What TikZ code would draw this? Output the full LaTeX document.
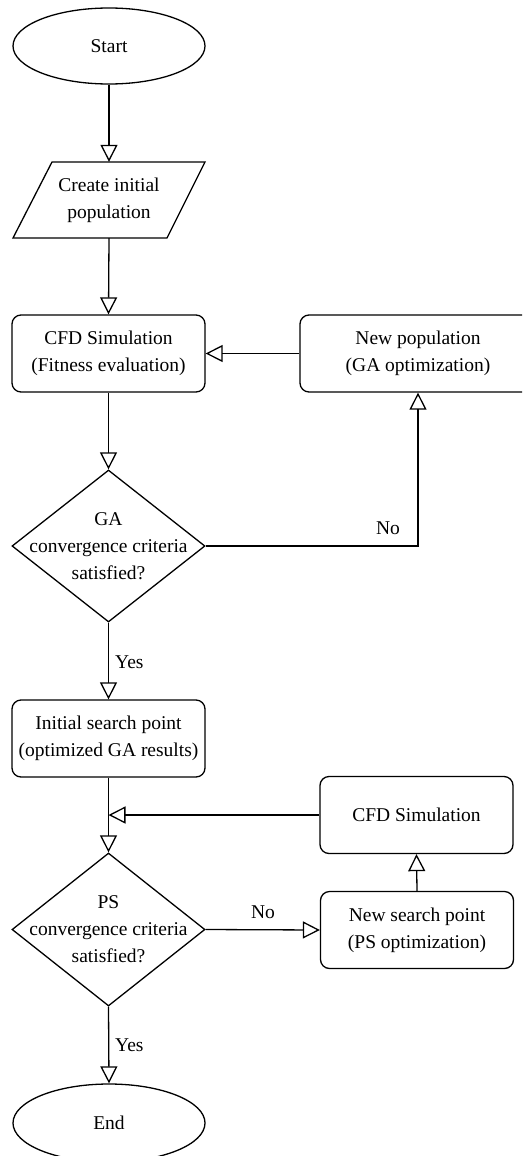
\documentclass[tikz,border=0pt]{standalone}
\usepackage{fontspec}
\setmainfont{Liberation Serif}
\usetikzlibrary{shapes.geometric,arrows.meta}
\begin{document}
\begin{tikzpicture}[x=1pt,y=-1pt,
  every node/.style={font=\fontsize{19.5}{27}\selectfont},
  term/.style={ellipse,draw,line width=1.3pt,minimum width=192pt,minimum height=76pt,inner sep=0pt},
  proc/.style={rectangle,rounded corners=9pt,draw,line width=1.3pt,minimum width=193pt,minimum height=77pt,inner sep=0pt,align=center},
  dec/.style={diamond,draw,line width=1.3pt,minimum width=193pt,minimum height=152pt,inner sep=0pt},
  txt/.style={align=center,inner sep=0pt},
  io/.style={rectangle,minimum width=120pt,minimum height=76pt,inner sep=0pt,align=center},
  arr/.style={line width=1.3pt,-{Triangle[open,length=17pt,width=17pt]}},
  lbl/.style={inner sep=0pt}
]
\useasboundingbox (0,0) rectangle (522,1156);
\clip (0,0) rectangle (522,1156);
\fill[white] (0,0) rectangle (522,1156);

\node[term] (start) at (109,46) {Start};
\node[io] (create) at (109,200) {Create initial\\population};
\draw[line width=1.3pt,line join=miter] (52,162) -- (205,162) -- (167,238) -- (13,238) -- cycle;
\node[proc] (cfd) at (108.5,353.5) {CFD Simulation\\(Fitness evaluation)};
\node[proc,minimum width=236pt] (newpop) at (418,353.5) {New population\\(GA optimization)};
\node[dec] (ga) at (108.5,546) {};
\node[txt] at (ga.center) {GA\\convergence criteria\\satisfied?};
\node[proc] (initial) at (108.5,738.5) {Initial search point\\(optimized GA results)};
\node[proc] (cfd2) at (416.5,815) {CFD Simulation};
\node[dec,minimum height=153pt] (ps) at (108.5,929.5) {};
\node[txt] at (ps.center) {PS\\convergence criteria\\satisfied?};
\node[proc] (newsearch) at (417,930) {New search point\\(PS optimization)};
\node[term,minimum height=78pt] (end) at (109,1123) {End};

\coordinate (join) at (initial.south |- cfd2.west);

\draw[arr] (start.south) -- (create.north);
\draw[arr] (create.south) -- (cfd.north);
\draw[arr] (newpop.west) -- (cfd.east);
\draw[arr] (cfd.south) -- (ga.north);
\draw[arr] (ga.east) -| (newpop.south);
\node[lbl] at (388,528) {No};
\draw[arr] (ga.south) -- (initial.north);
\node[lbl,anchor=west] at (115,662) {Yes};
\draw[arr] (initial.south) -- (ps.north);
\draw[arr] (cfd2.west) -- (join);
\draw[arr] (ps.east) -- (newsearch.west);
\node[lbl] at (263,912) {No};
\draw[arr] (newsearch.north) -- (cfd2.south);
\draw[arr] (ps.south) -- (end.north);
\node[lbl,anchor=west] at (115,1045) {Yes};
\end{tikzpicture}
\end{document}
